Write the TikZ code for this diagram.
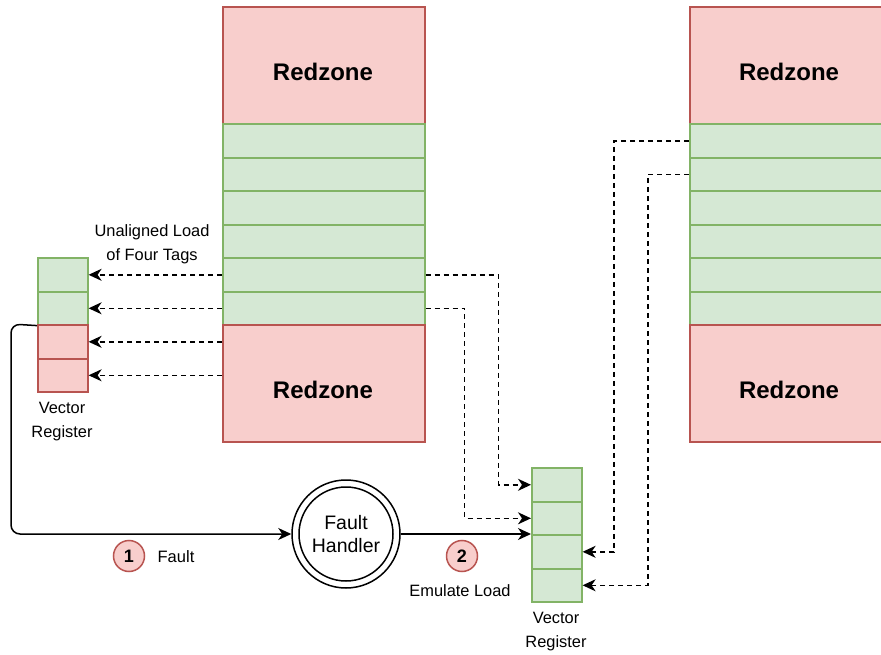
\documentclass[tikz,border=0pt]{standalone}
\usepackage{fontspec}
\setmainfont{Liberation Sans}
\usetikzlibrary{arrows.meta,calc}
\definecolor{rzfill}{HTML}{F8CECC}
\definecolor{rzline}{HTML}{B85450}
\definecolor{gfill}{HTML}{D5E8D4}
\definecolor{gline}{HTML}{82B366}
\begin{document}
\begin{tikzpicture}[x=1pt,y=-1pt,
  cell/.style={draw, rectangle, anchor=north west, inner sep=0pt, line width=1.6pt},
  redcell/.style={cell, fill=rzfill, draw=rzline},
  greencell/.style={cell, fill=gfill, draw=gline},
  rzlabel/.style={font=\fontsize{24}{28}\selectfont\bfseries},
  lbl/.style={font=\fontsize{16.4}{24}\selectfont, align=center},
  dasharrow/.style={draw, dash pattern=on 5pt off 4pt, line width=1.5pt, -{Stealth[length=13pt,width=12pt,inset=4pt]}},
  solidarrow/.style={draw, line width=1.5pt, -{Stealth[length=13pt,width=12pt,inset=4pt]}},
  badge/.style={circle, draw=rzline, fill=rzfill, line width=1.5pt, minimum size=31pt, inner sep=0pt, font=\fontsize{18}{21}\selectfont\bfseries}
]
\clip (0,0) rectangle (881,655);
\fill[white] (0,0) rectangle (881,655);

% middle memory column
\node[redcell, minimum width=202, minimum height=117] (rz1) at (222,6) {};
\node[rzlabel] (t1) at (323,72) {Redzone};
\foreach \i/\y/\h in {1/123/34,2/157/33,3/190/34,4/224/33,5/257/34,6/291/33}{
  \node[greencell, minimum width=202, minimum height=\h] (g\i) at (222,\y) {};
}
\node[redcell, minimum width=202, minimum height=117] (rz2) at (222,324) {};
\node[rzlabel] (t2) at (323,390) {Redzone};

% right memory column (clipped)
\node[redcell, minimum width=200, minimum height=117] (rz3) at (689,6) {};
\node[rzlabel] (t3) at (789,72) {Redzone};
\foreach \i/\y/\h in {1/123/34,2/157/33,3/190/34,4/224/33,5/257/34,6/291/33}{
  \node[greencell, minimum width=200, minimum height=\h] (h\i) at (689,\y) {};
}
\node[redcell, minimum width=200, minimum height=117] (rz4) at (689,324) {};
\node[rzlabel] (t4) at (789,390) {Redzone};

% left vector register
\node[greencell, minimum width=50, minimum height=34] (v1) at (37,257) {};
\node[greencell, minimum width=50, minimum height=33] (v2) at (37,291) {};
\node[redcell, minimum width=50, minimum height=34] (v3) at (37,324) {};
\node[redcell, minimum width=50, minimum height=33] (v4) at (37,358) {};
\node[lbl] (vlab) at (62,422) {Vector\\Register};

% bottom vector register
\foreach \i/\y/\h in {1/467/34,2/501/33,3/534/34,4/568/33}{
  \node[greencell, minimum width=50, minimum height=\h] (w\i) at (531,\y) {};
}
\node[lbl] (wlab) at (556,632) {Vector\\Register};

% label
\node[lbl] (ulab) at (152,244) {Unaligned Load\\of Four Tags};

% dashed loads to left register
\draw[dasharrow] (g5.west) -- (v1.east);
\draw[dasharrow] (g6.west) -- (v2.east);
\draw[dasharrow] (v3.east -| rz2.west) -- (v3.east);
\draw[dasharrow] (v4.east -| rz2.west) -- (v4.east);

% dashed loads to bottom register
\draw[dasharrow] (g5.east) -- ++(73,0) |- (w1.west);
\draw[dasharrow] (g6.east) -- ++(39,0) |- (w2.west);
\draw[dasharrow] (h1.west) -- ++(-75,0) |- (w3.east);
\draw[dasharrow] (h2.west) -- ++(-41,0) |- (w4.east);

% fault handler
\node[circle, draw, line width=1.5pt, minimum size=108pt, inner sep=0pt, font=\fontsize{19.5}{23}\selectfont, align=center] (fh) at (346,534) {Fault\\Handler};
\draw[line width=1.5pt] (fh.center) circle[radius=47pt];

\coordinate (turn) at (11,324);
\draw[solidarrow, rounded corners=9pt] (v2.south west) -- (turn) |- (fh.west);
\draw[solidarrow] (fh.east) -- (fh.east -| w3.north west);

% badges
\node[badge] (b1) at (129,556) {1};
\node[font=\fontsize{16.5}{20}\selectfont] (flab) at (176,557) {Fault};
\node[badge] (b2) at (462,556) {2};
\node[lbl] (elab) at (460,591) {Emulate Load};
\end{tikzpicture}
\end{document}
